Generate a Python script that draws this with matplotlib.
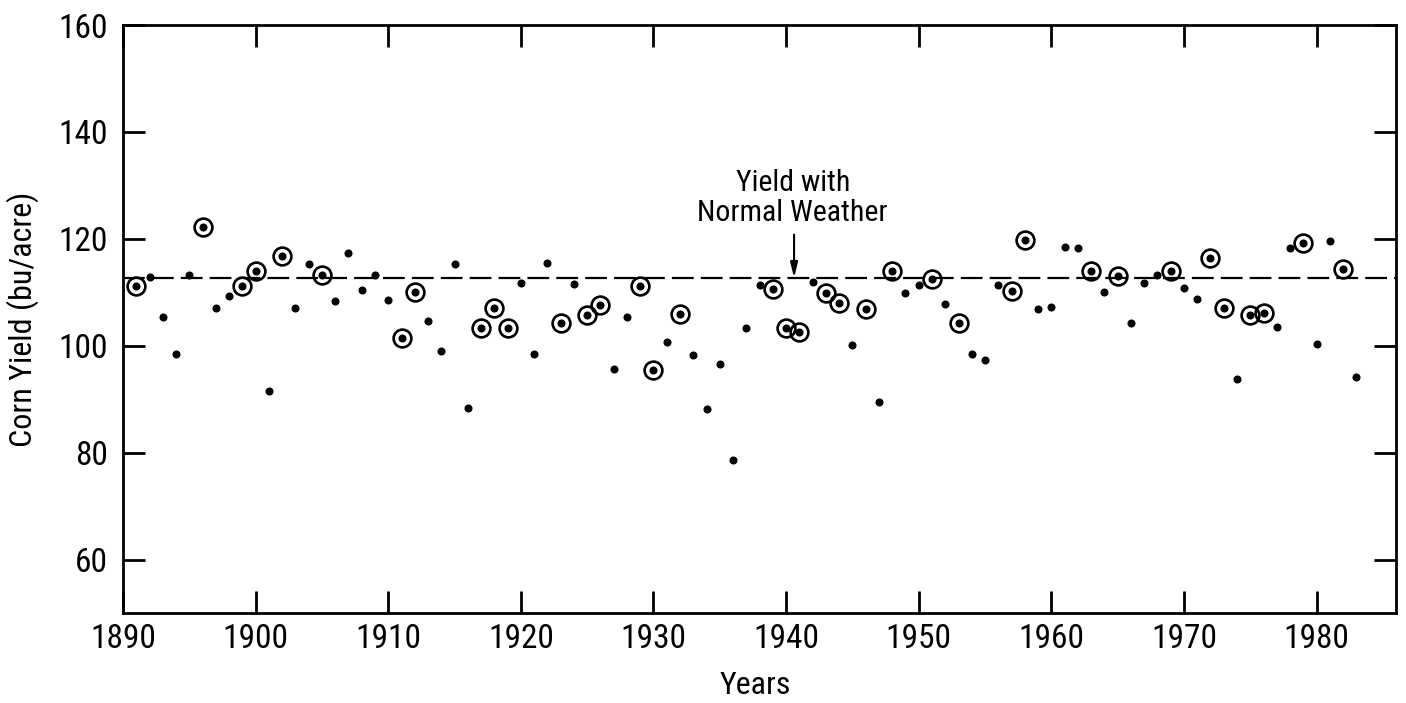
import matplotlib
matplotlib.use("Agg")
import matplotlib.pyplot as plt
from matplotlib import font_manager as fm

# ---------------- data ----------------
years = list(range(1891, 1984))
yields = [
    111.2, 112.8, 105.3, 98.4, 113.2, 122.2, 107.1, 109.4, 111.2, 114.0,   # 1891-1900
    91.5, 116.7, 107.0, 115.2, 113.2, 108.3, 117.4, 110.5, 113.3, 108.6,   # 1901-1910
    101.5, 110.1, 104.7, 99.0, 115.2, 88.4, 103.4, 107.1, 103.4, 111.7,    # 1911-1920
    98.5, 115.4, 104.3, 111.5, 105.8, 107.6, 95.7, 105.3, 111.1, 95.5,     # 1921-1930
    100.7, 106.0, 98.2, 88.2, 96.5, 78.6, 103.3, 111.3, 110.6, 103.3,      # 1931-1940
    102.6, 112.0, 109.9, 108.0, 100.1, 106.9, 89.5, 114.0, 109.9, 111.3,   # 1941-1950
    112.5, 107.8, 104.3, 98.5, 97.3, 111.3, 110.3, 119.7, 106.9, 107.2,    # 1951-1960
    118.4, 118.2, 113.9, 110.0, 113.0, 104.2, 111.8, 113.2, 114.0, 110.8,  # 1961-1970
    108.8, 116.4, 107.1, 93.7, 105.8, 106.2, 103.5, 118.3, 119.2, 100.4,   # 1971-1980
    119.6, 114.4, 94.1,                                                    # 1981-1983
]
circled_years = [1891, 1896, 1899, 1900, 1902, 1905, 1911, 1912, 1917, 1918,
                 1919, 1923, 1925, 1926, 1929, 1930, 1932, 1939, 1940, 1941,
                 1943, 1944, 1946, 1948, 1951, 1953, 1957, 1958, 1963, 1965,
                 1969, 1972, 1973, 1975, 1976, 1979, 1982]
normal_yield = 112.7
arrow_year = 1940.6
annotation_text = "Yield with\nNormal Weather"
x_ticks = [1890, 1900, 1910, 1920, 1930, 1940, 1950, 1960, 1970, 1980]
y_ticks = [60, 80, 100, 120, 140, 160]
x_label = "Years"
y_label = "Corn Yield (bu/acre)"


# ---------------- font: prefer a narrow / condensed sans ----------------
def pick_font_path():
    entries = fm.fontManager.ttflist

    def regular(e):
        return e.style == "normal" and e.weight in (400, "normal", "regular", "book")

    for e in entries:
        if e.name == "Liberation Sans Narrow" and regular(e):
            return e.fname
    for key in ("Roboto Condensed", "Open Sans Condensed", "Noto Sans"):
        for e in entries:
            if e.name.startswith(key) and regular(e) and (
                    "ondensed" in e.name or e.stretch == "condensed"
                    or "ondensed" in e.fname):
                return e.fname
    for e in entries:
        if regular(e) and ("ondensed" in e.fname or "Narrow" in e.fname):
            return e.fname
    return None


font_path = pick_font_path()


def fp(size):
    if font_path:
        return fm.FontProperties(fname=font_path, size=size)
    return fm.FontProperties(family="DejaVu Sans", size=size)


# ---------------- figure ----------------
fig = plt.figure(figsize=(14.06, 7.03), dpi=100)
ax = fig.add_axes([0.0875, 0.128, 0.9055, 0.8364])

circled_vals = [yields[years.index(y)] for y in circled_years]

ax.axhline(normal_yield, color="black", lw=1.6, linestyle=(0, (9.8, 3.2)), zorder=1)
ax.plot(years, yields, linestyle="none", marker="o", ms=4.8,
        color="black", zorder=3)
ax.plot(circled_years, circled_vals, linestyle="none", marker="o", ms=12.8,
        mfc="none", mec="black", mew=1.9, zorder=3)

ax.annotate("", xy=(arrow_year, normal_yield), xytext=(arrow_year, 120.8),
            arrowprops=dict(arrowstyle="-|>,head_length=0.9,head_width=0.22",
                            lw=1.5, color="black", shrinkA=0, shrinkB=0,
                            mutation_scale=10))
ax.text(arrow_year - 0.1, 122.3, annotation_text, ha="center", va="bottom",
        linespacing=1.08, fontproperties=fp(21.5))

ax.set_xlim(1890, 1986)
ax.set_ylim(50, 160)
ax.set_xticks(x_ticks)
ax.set_yticks(y_ticks)
ax.set_xticklabels([str(v) for v in x_ticks])
ax.set_yticklabels([str(v) for v in y_ticks])

ax.tick_params(direction="in", length=16, width=2.0, top=True, right=True,
               labeltop=False, labelright=False, color="black")
ax.tick_params(axis="x", pad=7)
ax.tick_params(axis="y", pad=11)
for lbl in ax.get_xticklabels() + ax.get_yticklabels():
    lbl.set_fontproperties(fp(24))

for s in ax.spines.values():
    s.set_linewidth(2.0)
    s.set_color("black")

ax.set_xlabel(x_label, fontproperties=fp(23))
ax.set_ylabel(y_label, fontproperties=fp(23))
ax.xaxis.set_label_coords(0.4965, -0.098)
ax.yaxis.set_label_coords(-0.066, 0.5)

fig.savefig("out.png", dpi=100, facecolor="white")
